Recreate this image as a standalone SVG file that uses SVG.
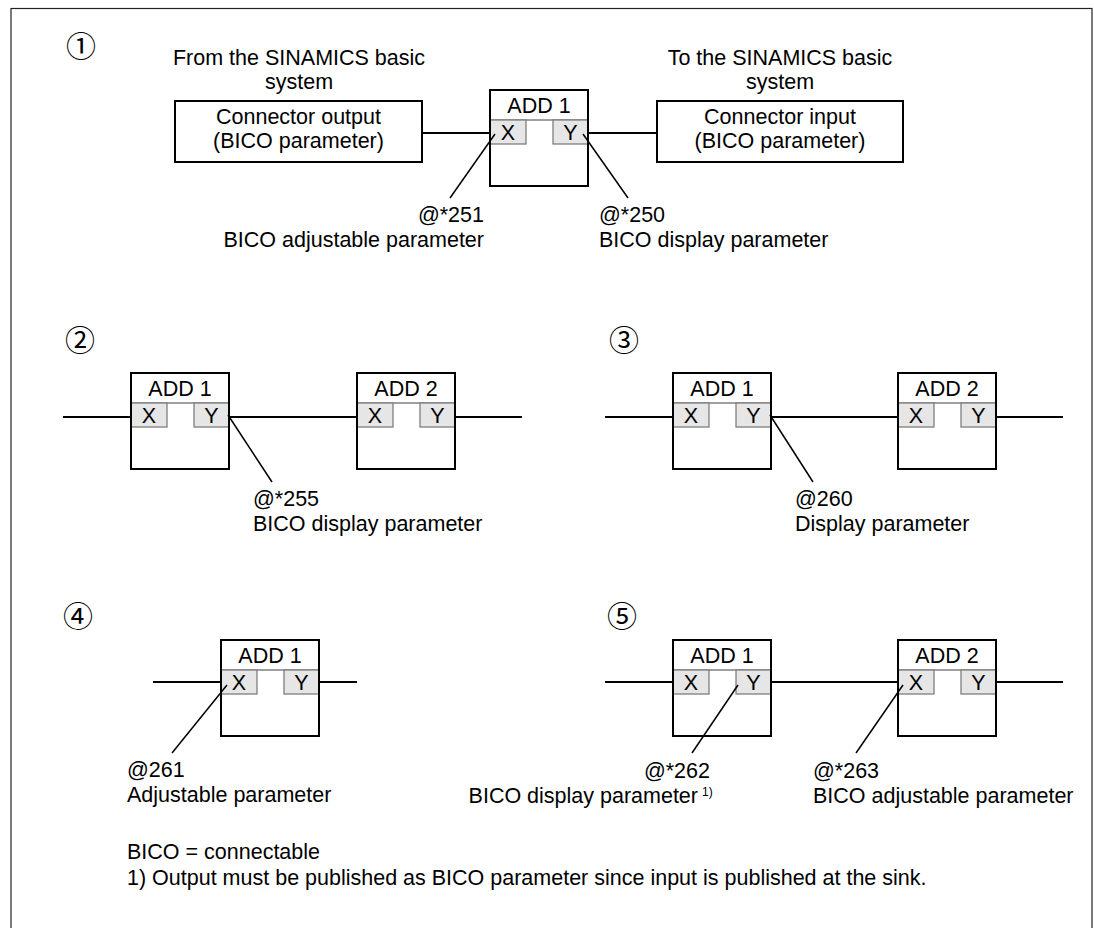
<svg xmlns="http://www.w3.org/2000/svg" width="1094" height="928" viewBox="0 0 1094 928">
<style>
text{font-family:"Liberation Sans",Arial,sans-serif;font-size:21.5px;fill:#000}
.num{font-family:"Noto Sans CJK JP","DejaVu Sans",sans-serif;font-size:30px;text-anchor:middle}
.c{text-anchor:middle}
.e{text-anchor:end}
.box{fill:#fff;stroke:#000;stroke-width:2}
.port{fill:#e6e6e6;stroke:#7f7f7f;stroke-width:1.3}
.hdr{stroke:#7f7f7f;stroke-width:1.3}
.wire{stroke:#000;stroke-width:2;fill:none}
.lead{stroke:#000;stroke-width:1.5;fill:none}
.sup{font-size:12px}
</style>
<defs>
<g id="fb">
<rect class="box" x="0" y="0" width="98" height="96"/>
<line class="hdr" x1="0" y1="30" x2="98" y2="30"/>
<rect class="port" x="0" y="30" width="36" height="24"/>
<rect class="port" x="63" y="30" width="35" height="24"/>
<rect x="0" y="0" width="98" height="96" fill="none" stroke="#000" stroke-width="2"/>
<text class="c" x="18" y="50">X</text>
<text class="c" x="80.5" y="50">Y</text>
</g>
</defs>
<rect id="frame" x="11" y="8.5" width="1081" height="940" fill="none" stroke="#222" stroke-width="1.2"/>

<g id="section1">
<text class="num" x="81" y="57">①</text>
<text class="c" x="299" y="65">From the SINAMICS basic</text>
<text class="c" x="299" y="89">system</text>
<text class="c" x="780" y="65">To the SINAMICS basic</text>
<text class="c" x="780" y="89">system</text>
</g>
<g id="conn-out">
<rect class="box" x="175" y="101" width="247" height="61"/>
<text class="c" x="298.5" y="124">Connector output</text>
<text class="c" x="298.5" y="148">(BICO parameter)</text>
</g>
<g id="conn-in">
<rect class="box" x="657" y="101" width="246" height="61"/>
<text class="c" x="780" y="124">Connector input</text>
<text class="c" x="780" y="148">(BICO parameter)</text>
</g>
<g id="s1-add1">
<use href="#fb" x="490" y="90"/>
<text class="c" x="539" y="113">ADD 1</text>
</g>
<g id="s1-labels">
<text class="e" x="484" y="222">@*251</text>
<text class="e" x="484" y="247">BICO adjustable parameter</text>
<text x="599" y="222">@*250</text>
<text x="599" y="247">BICO display parameter</text>
</g>

<g id="section2">
<text class="num" x="80" y="351">②</text>
</g>
<g id="s2-add1"><use href="#fb" x="131" y="373"/><text class="c" x="180" y="396">ADD 1</text></g>
<g id="s2-add2"><use href="#fb" x="357" y="373"/><text class="c" x="406" y="396">ADD 2</text></g>
<g id="s2-labels">
<text x="253" y="506">@*255</text>
<text x="253" y="531">BICO display parameter</text>
</g>

<g id="section3">
<text class="num" x="624" y="351">③</text>
</g>
<g id="s3-add1"><use href="#fb" x="673" y="373"/><text class="c" x="722" y="396">ADD 1</text></g>
<g id="s3-add2"><use href="#fb" x="898" y="373"/><text class="c" x="947" y="396">ADD 2</text></g>
<g id="s3-labels">
<text x="795" y="506">@260</text>
<text x="795" y="531">Display parameter</text>
</g>

<g id="section4">
<text class="num" x="78" y="627">④</text>
</g>
<g id="s4-add1"><use href="#fb" x="221" y="640"/><text class="c" x="270" y="663">ADD 1</text></g>
<g id="s4-labels">
<text x="127" y="777">@261</text>
<text x="127" y="802">Adjustable parameter</text>
</g>

<g id="section5">
<text class="num" x="622" y="627">⑤</text>
</g>
<g id="s5-add1"><use href="#fb" x="673" y="640"/><text class="c" x="722" y="663">ADD 1</text></g>
<g id="s5-add2"><use href="#fb" x="898" y="640"/><text class="c" x="947" y="663">ADD 2</text></g>
<g id="s5-labels">
<text class="e" x="710" y="778">@*262</text>
<text class="e" x="698" y="803">BICO display parameter</text>
<text class="sup" x="702" y="796">1)</text>
<text x="813" y="778">@*263</text>
<text x="813" y="803">BICO adjustable parameter</text>
</g>

<g id="notes">
<text x="127" y="859">BICO = connectable</text>
<text x="127" y="885">1) Output must be published as BICO parameter since input is published at the sink.</text>
</g>

<g id="connectors">
<line class="wire" x1="422" y1="133" x2="490" y2="133"/>
<line class="wire" x1="588" y1="133" x2="657" y2="133"/>
<line class="wire" x1="63" y1="417" x2="131" y2="417"/>
<line class="wire" x1="229" y1="417" x2="357" y2="417"/>
<line class="wire" x1="455" y1="417" x2="522" y2="417"/>
<line class="wire" x1="605" y1="417" x2="673" y2="417"/>
<line class="wire" x1="771" y1="417" x2="898" y2="417"/>
<line class="wire" x1="996" y1="417" x2="1063" y2="417"/>
<line class="wire" x1="153" y1="682" x2="221" y2="682"/>
<line class="wire" x1="319" y1="682" x2="357" y2="682"/>
<line class="wire" x1="605" y1="682" x2="673" y2="682"/>
<line class="wire" x1="771" y1="682" x2="898" y2="682"/>
<line class="wire" x1="996" y1="682" x2="1063" y2="682"/>
<line class="lead" x1="495" y1="134" x2="450" y2="198"/>
<line class="lead" x1="583" y1="134" x2="628" y2="198"/>
<line class="lead" x1="228" y1="415" x2="272" y2="482"/>
<line class="lead" x1="770" y1="415" x2="813" y2="482"/>
<line class="lead" x1="227" y1="685" x2="172" y2="753"/>
<line class="lead" x1="738" y1="685" x2="692" y2="753"/>
<line class="lead" x1="903" y1="685" x2="856" y2="753"/>
</g>
</svg>
